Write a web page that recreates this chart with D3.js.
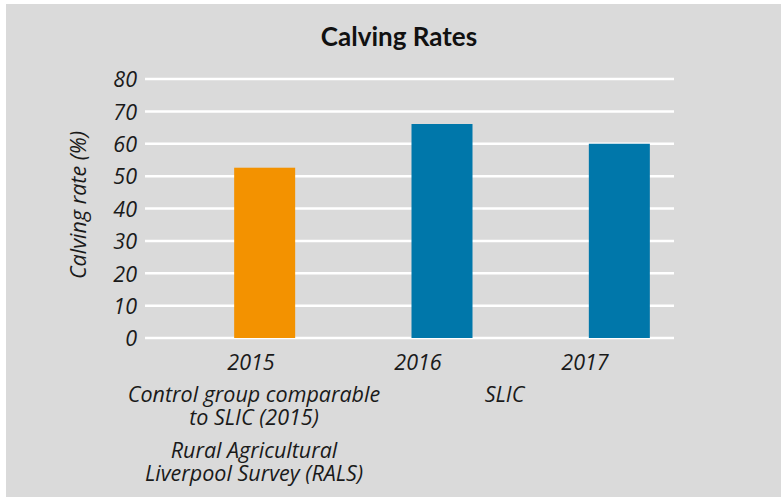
<!DOCTYPE html>
<html><head><meta charset="utf-8">
<script src="https://cdn.jsdelivr.net/npm/d3@7"></script>
<style>
html,body{margin:0;padding:0;background:#fff;}
svg{display:block;}
</style></head><body>
<svg id="chart" width="781" height="497"></svg>
<script>
const categories = ["2015", "2016", "2017"];
const values = [52.6, 66.1, 60.0];
const barColors = ["#f39200", "#0077aa", "#0077aa"];
const yTicks = [0, 10, 20, 30, 40, 50, 60, 70, 80];
const groupLabels = [
  {lines: ["Control group comparable", "to SLIC (2015)"], from: "2015", to: "2015"},
  {lines: ["SLIC"], from: "2016", to: "2017"}
];
const sourceLabel = ["Rural Agricultural", "Liverpool Survey (RALS)"];
const title = "Calving Rates";
const yTitle = "Calving rate (%)";

const FONT = "'Open Sans', sans-serif";
const FS = 21.5;
const TXT = "#1a1a1a";

const svg = d3.select("#chart");
svg.append("rect").attr("x", 6).attr("y", 4).attr("width", 775).attr("height", 493).attr("fill", "#dadada");

const y = d3.scaleLinear().domain([0, 80]).range([338, 79]);
const x = d3.scaleBand().domain(categories).range([176, 708]).paddingInner(0.656).paddingOuter(0.328);
const xl = d3.scalePoint().domain(categories).range([251, 585]);

function italic(sel) {
  return sel.style("font-family", FONT).style("font-style", "italic")
    .style("font-size", FS + "px").style("fill", TXT);
}
function multiline(cx, y0, lines) {
  const t = italic(svg.append("text").attr("text-anchor", "middle"));
  lines.forEach((l, j) => {
    t.append("tspan").attr("x", cx).attr("y", y0 + j * 23).text(l);
  });
  return t;
}

// gridlines
svg.append("g").selectAll("line").data(yTicks).join("line")
  .attr("x1", 145).attr("x2", 674)
  .attr("y1", d => y(d)).attr("y2", d => y(d))
  .attr("stroke", "#ffffff").attr("stroke-width", 2.5);

// y axis labels
const yAxis = d3.axisLeft(y).tickValues(yTicks).tickSize(0).tickPadding(0);
const gy = svg.append("g").attr("transform", "translate(137,0)").call(yAxis);
gy.select(".domain").remove();
italic(gy.selectAll("text")).attr("dy", "0.36em");

// bars
svg.append("g").selectAll("rect").data(categories).join("rect")
  .attr("x", d => x(d)).attr("width", x.bandwidth())
  .attr("y", (d, i) => y(values[i])).attr("height", (d, i) => y(0) - y(values[i]))
  .attr("fill", (d, i) => barColors[i]);

// x labels
italic(svg.append("g").selectAll("text").data(categories).join("text")
  .attr("x", d => xl(d)).attr("y", 370)
  .attr("text-anchor", "middle"))
  .text(d => d);

// group labels
groupLabels.forEach(g => {
  const cx = (xl(g.from) + xl(g.to)) / 2 + 3;
  multiline(cx, 402, g.lines);
});
multiline(xl("2015") + 3, 458, sourceLabel);

// title
svg.append("text").attr("x", 399).attr("y", 46).attr("text-anchor", "middle")
  .style("font-family", "Lato, sans-serif").style("font-weight", "bold")
  .style("font-size", "26px").style("fill", "#111").text(title);

// y title
italic(svg.append("text").attr("transform", "translate(86,205) rotate(-90)")
  .attr("text-anchor", "middle")).text(yTitle);
</script>
</body></html>
